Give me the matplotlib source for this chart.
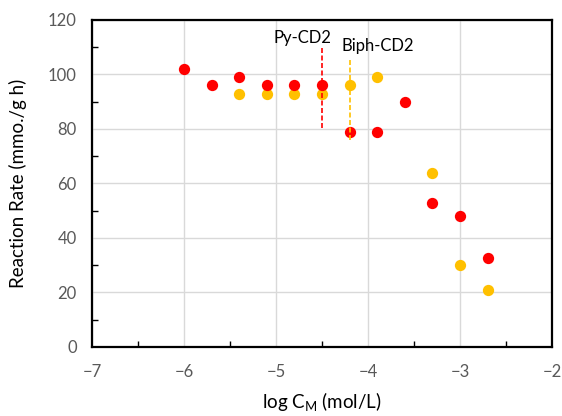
import matplotlib.pyplot as plt
from matplotlib.ticker import MultipleLocator

plt.rcParams['font.family'] = ['Lato', 'DejaVu Sans']

# Py-CD2 (red)
x_py = [-6.0, -5.7, -5.4, -5.1, -4.8, -4.5, -4.2, -3.9, -3.6, -3.3, -3.0, -2.7]
y_py = [102, 96, 99, 96, 96, 96, 79, 79, 90, 53, 48, 32.5]

# Biph-CD2 (yellow)
x_bp = [-5.4, -5.1, -4.8, -4.5, -4.2, -3.9, -3.3, -3.0, -2.7]
y_bp = [93, 93, 93, 93, 96, 99, 64, 30, 21]

# dashed marker lines: x, y range
py_line = (-4.5, 80.5, 110.5)
bp_line = (-4.2, 76, 106)

fig = plt.figure(figsize=(5.62, 4.16), dpi=100)
ax = fig.add_axes([0.1637, 0.1659, 0.8183, 0.7861])

ax.scatter(x_bp, y_bp, s=66, color='#FFC000', zorder=3, linewidths=0)
ax.scatter(x_py, y_py, s=66, color='#FF0000', zorder=3, linewidths=0)

ax.plot([py_line[0]] * 2, py_line[1:], color='#FF0000', ls=(0, (3, 1.5)), lw=1.2, zorder=4)
ax.plot([bp_line[0]] * 2, bp_line[1:], color='#FFC000', ls=(0, (3, 1.5)), lw=1.2, zorder=4)

ax.text(-4.71, 113.5, 'Py-CD2', ha='center', va='center', fontsize=12)
ax.text(-3.89, 110.5, 'Biph-CD2', ha='center', va='center', fontsize=12)

ax.set_xlim(-7, -2)
ax.set_ylim(0, 120)
ax.xaxis.set_major_locator(MultipleLocator(1))
ax.xaxis.set_minor_locator(MultipleLocator(0.5))
ax.yaxis.set_major_locator(MultipleLocator(20))
ax.yaxis.set_minor_locator(MultipleLocator(10))
ax.grid(True, which='major', color='#D9D9D9', lw=1, zorder=0)
ax.set_axisbelow(True)

ax.tick_params(which='major', length=0, labelsize=12, labelcolor='#595959', pad=11)
ax.tick_params(axis='x', which='major', pad=12)
ax.tick_params(which='minor', direction='in', length=4, width=1, color='black')
for sp in ax.spines.values():
    sp.set_linewidth(1.6)
    sp.set_color('black')

ax.set_xlabel('log C$_\\mathregular{M}$ (mol/L)', fontsize=13.5, labelpad=8)
ax.set_ylabel('Reaction Rate (mmo./g h)', fontsize=13.5, labelpad=15)

fig.savefig('out.png', dpi=100)
